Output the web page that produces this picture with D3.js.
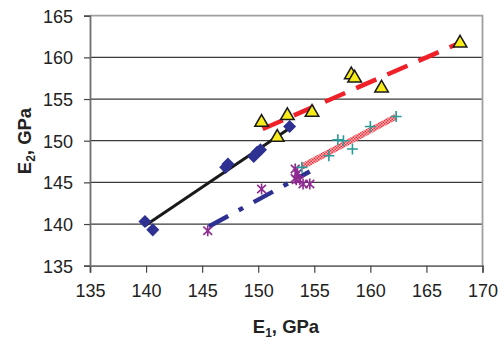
<!DOCTYPE html>
<html>
<head>
<meta charset="utf-8">
<script src="https://cdn.jsdelivr.net/npm/d3@7"></script>
<style>
  body { margin: 0; background: #fff; }
  svg { display: block; font-family: "Liberation Sans", Arial, sans-serif; }
</style>
</head>
<body>
<svg id="chart" width="504" height="344"></svg>
<script>
// measured points, [E1, E2] in GPa
const diamonds = [[139.9, 140.3], [140.6, 139.3], [147.1, 146.8], [147.3, 147.2],
  [149.6, 148.1], [149.9, 148.6], [150.2, 148.9], [152.8, 151.7]];
const triangles = [[150.3, 152.2], [151.7, 150.4], [152.6, 153.0], [154.8, 153.4],
  [158.3, 157.9], [158.6, 157.5], [161.0, 156.3], [168.0, 161.7]];
const pluses = [[153.9, 146.8], [156.3, 148.2], [157.1, 150.1], [157.6, 150.0],
  [158.4, 149.0], [160.0, 151.7], [162.3, 152.9]];
const stars = [[145.5, 139.2], [150.3, 144.2], [153.3, 146.6], [153.5, 146.1],
  [153.3, 145.5], [153.7, 145.3], [153.4, 145.3], [154.0, 144.8], [154.6, 144.8]];

// trend lines (end points)
const trendBlack = [[139.9, 139.8], [152.8, 151.5]];
const trendRed = [[150.4, 151.4], [167.9, 161.7]];
const trendPink = [[153.9, 146.9], [162.3, 152.9]];
const trendBlue = [[145.6, 139.7], [154.6, 146.3]];

const xTicks = [135, 140, 145, 150, 155, 160, 165, 170];
const yTicks = [135, 140, 145, 150, 155, 160, 165];

const svg = d3.select("#chart");
const x = d3.scaleLinear().domain([135, 170]).range([90, 482.5]);
const y = d3.scaleLinear().domain([135, 165]).range([265.7, 15.7]);

// hatched stroke for the pink trend line
const pat = svg.append("defs").append("pattern")
  .attr("id", "hatch").attr("patternUnits", "userSpaceOnUse")
  .attr("width", 3).attr("height", 3);
pat.append("rect").attr("width", 3).attr("height", 3).attr("fill", "#fbb8bd");
pat.append("rect").attr("width", 1.5).attr("height", 1.5).attr("fill", "#f0303c");
pat.append("rect").attr("x", 1.5).attr("y", 1.5).attr("width", 1.5).attr("height", 1.5).attr("fill", "#f0303c");

// grid
svg.append("g").selectAll("line")
  .data(yTicks.filter((d) => d > 135 && d < 165))
  .join("line")
  .attr("x1", x(135)).attr("x2", x(170))
  .attr("y1", (d) => y(d)).attr("y2", (d) => y(d))
  .attr("stroke", "#3a3a3a").attr("stroke-width", 1.3);

// frame
svg.append("path")
  .attr("d", `M${x(135)},${y(165)}H${x(170)}V${y(135)}`)
  .attr("fill", "none").attr("stroke", "#a0a0a0").attr("stroke-width", 1.8);

// axes
const xAxis = svg.append("g")
  .attr("transform", `translate(0,${y(135)})`)
  .call(d3.axisBottom(x).tickValues(xTicks).tickSize(7).tickPadding(12));
const yAxis = svg.append("g")
  .attr("transform", `translate(${x(135)},0)`)
  .call(d3.axisLeft(y).tickValues(yTicks).tickSize(6).tickPadding(11));

[xAxis, yAxis].forEach((ax) => {
  ax.select(".domain").attr("stroke", "#6e6e6e").attr("stroke-width", 1.8);
  ax.selectAll(".tick line").attr("stroke", "#444").attr("stroke-width", 1.2);
  ax.selectAll("text")
    .attr("font-family", "Liberation Sans, Arial, sans-serif")
    .attr("font-size", 18).attr("fill", "#222");
});
yAxis.selectAll("text").attr("dy", "0.36em");

// trend lines
const line = d3.line().x((d) => x(d[0])).y((d) => y(d[1]));
const trends = svg.append("g").attr("fill", "none");
trends.append("path").attr("d", line(trendBlack))
  .attr("stroke", "#1a1a1a").attr("stroke-width", 3);
trends.append("path").attr("d", line(trendRed))
  .attr("stroke", "#f02028").attr("stroke-width", 4.5)
  .attr("stroke-dasharray", "22,12");
trends.append("path").attr("d", line(trendPink))
  .attr("stroke", "url(#hatch)").attr("stroke-width", 6);
trends.append("path").attr("d", line(trendBlue))
  .attr("stroke", "#2e3192").attr("stroke-width", 4.5)
  .attr("stroke-dasharray", "22,12,5,12");

// markers
const marks = svg.append("g");

marks.selectAll("path.dia")
  .data(diamonds)
  .join("path")
  .attr("class", "dia")
  .attr("d", d3.symbol(d3.symbolSquare, 85)())
  .attr("transform", (d) => `translate(${x(d[0])},${y(d[1])}) rotate(45)`)
  .attr("fill", "#2e3192");

const r = 5.5;
marks.selectAll("path.star")
  .data(stars)
  .join("path")
  .attr("class", "star")
  .attr("d", `M0,${-r}V${r}M${-r * 0.8},${-r * 0.75}L${r * 0.8},${r * 0.75}M${-r * 0.8},${r * 0.75}L${r * 0.8},${-r * 0.75}`)
  .attr("transform", (d) => `translate(${x(d[0])},${y(d[1])})`)
  .attr("stroke", "#8e2a90").attr("stroke-width", 1.6).attr("fill", "none");

marks.selectAll("path.plus")
  .data(pluses)
  .join("path")
  .attr("class", "plus")
  .attr("d", `M0,${-r}V${r}M${-r},0H${r}`)
  .attr("transform", (d) => `translate(${x(d[0])},${y(d[1])})`)
  .attr("stroke", "#2a9a98").attr("stroke-width", 1.6).attr("fill", "none");

marks.selectAll("path.tri")
  .data(triangles)
  .join("path")
  .attr("class", "tri")
  .attr("d", d3.symbol(d3.symbolTriangle, 80)())
  .attr("transform", (d) => `translate(${x(d[0])},${y(d[1])})`)
  .attr("fill", "#f7ec1a").attr("stroke", "#1a1a1a").attr("stroke-width", 1.5);

// axis titles
const xt = svg.append("text")
  .attr("x", 286).attr("y", 333)
  .attr("text-anchor", "middle")
  .attr("font-size", 18.5).attr("font-weight", "bold").attr("fill", "#222");
xt.append("tspan").text("E");
xt.append("tspan").attr("font-size", 12).attr("dy", 4).text("1");
xt.append("tspan").attr("dy", -4).text(", GPa");

const yt = svg.append("text")
  .attr("transform", "translate(31,141) rotate(-90)")
  .attr("text-anchor", "middle")
  .attr("font-size", 18.5).attr("font-weight", "bold").attr("fill", "#222");
yt.append("tspan").text("E");
yt.append("tspan").attr("font-size", 12).attr("dy", 4).text("2");
yt.append("tspan").attr("dy", -4).text(", GPa");
</script>
</body>
</html>
